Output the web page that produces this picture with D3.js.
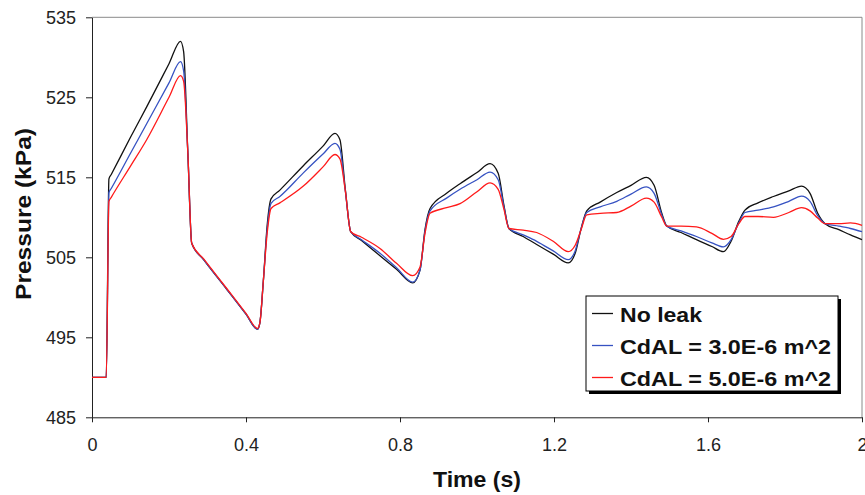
<!DOCTYPE html>
<html>
<head>
<meta charset="utf-8">
<script src="https://cdn.jsdelivr.net/npm/d3@7"></script>
<style>
  body { margin: 0; background: #fff; }
  text { font-family: "Liberation Sans", Arial, sans-serif; }
</style>
</head>
<body>
<svg id="chart" width="865" height="495"></svg>
<script>
// time (s)
var time = [0, 0.037, 0.044, 0.050, 0.10, 0.142, 0.20, 0.230, 0.238, 0.249, 0.259,
  0.290, 0.35, 0.40, 0.430, 0.436, 0.445, 0.455, 0.465, 0.488, 0.549,
  0.60, 0.631, 0.644, 0.658, 0.672, 0.70, 0.748, 0.791, 0.833, 0.852,
  0.865, 0.878, 0.921, 0.956, 1.0, 1.034, 1.055, 1.070, 1.083, 1.12,
  1.155, 1.198, 1.237, 1.255, 1.270, 1.285, 1.320, 1.363, 1.400, 1.440,
  1.460, 1.480, 1.493, 1.530, 1.570, 1.610, 1.640, 1.660, 1.680, 1.696,
  1.730, 1.770, 1.810, 1.843, 1.865, 1.885, 1.904, 1.940, 1.970, 2.0];

// pressure (kPa)
var noLeak = [490, 490, 514.8, 515.35, 520.0, 523.8, 529.2, 532.0, 530.7, 518.0, 506.75,
  504.7, 501.0, 497.9, 496.0, 496.8, 502.0, 509.0, 512.3, 513.4, 516.45,
  518.9, 520.5, 519.7, 513.5, 508.2, 507.1, 505.2, 503.5, 501.8, 503.4,
  508.5, 511.1, 513.0, 514.2, 515.6, 516.7, 515.5, 511.5, 508.6, 507.6,
  506.6, 505.4, 504.3, 505.5, 508.5, 510.8, 511.9, 513.1, 514.0, 515.0,
  514.0, 510.5, 508.9, 508.1, 507.2, 506.35, 505.7, 507.0, 509.5, 510.9,
  511.8, 512.6, 513.3, 513.9, 513.0, 510.5, 509.2, 508.45, 507.8, 507.2];

var cdal3 = [490, 490, 513.1, 513.6, 518.0, 521.7, 526.8, 529.45, 528.3, 518.0, 506.75,
  504.7, 501.0, 497.9, 496.0, 496.8, 502.0, 508.5, 511.75, 512.6, 515.55,
  517.9, 519.25, 518.5, 513.3, 508.2, 507.2, 505.5, 503.7, 501.9, 503.4,
  508.3, 510.8, 512.4, 513.5, 514.7, 515.65, 514.7, 511.3, 508.6, 507.8,
  507.0, 505.8, 504.7, 505.8, 508.5, 510.6, 511.3, 512.0, 512.9, 513.8,
  513.0, 510.3, 508.9, 508.3, 507.6, 506.8, 506.3, 507.2, 509.3, 510.6,
  510.9, 511.3, 512.0, 512.65, 512.0, 510.2, 509.2, 508.9, 508.6, 508.2];

var cdal5 = [490, 490, 512.0, 512.5, 516.4, 519.7, 525.0, 527.7, 527.0, 518.0, 506.75,
  504.8, 501.1, 498.0, 496.1, 496.8, 502.0, 508.0, 511.1, 511.8, 513.9,
  516.3, 517.85, 517.3, 513.3, 508.2, 507.5, 506.1, 504.25, 502.7, 503.8,
  508.0, 510.5, 511.2, 511.7, 513.2, 514.3, 513.5, 511.0, 508.6, 508.4,
  508.1, 507.0, 505.7, 506.5, 508.4, 510.3, 510.5, 510.6, 511.4, 512.4,
  511.9, 510.0, 508.9, 508.9, 508.8, 508.0, 507.25, 507.6, 509.2, 510.1,
  510.1, 510.0, 510.6, 511.2, 510.8, 509.9, 509.2, 509.2, 509.3, 509.0];

var seriesNames = ["No leak", "CdAL = 3.0E-6 m^2", "CdAL = 5.0E-6 m^2"];
var seriesColors = ["#111111", "#3652c2", "#ff1a1a"];
var xTicks = [0, 0.4, 0.8, 1.2, 1.6, 2];
var yTicks = [485, 495, 505, 515, 525, 535];

var plotLeft = 92, plotRight = 862, plotTop = 17.3, plotBottom = 417.3;

var svg = d3.select('#chart');

var x = d3.scaleLinear().domain([0, 2]).range([plotLeft, plotRight]);
var y = d3.scaleLinear().domain([485, 535]).range([plotBottom, plotTop]);

// frame (top/right in grey)
svg.append('line').attr('x1', plotLeft).attr('x2', plotRight).attr('y1', plotTop).attr('y2', plotTop)
  .attr('stroke', '#8a8a8a').attr('stroke-width', 1);
svg.append('line').attr('x1', plotRight).attr('x2', plotRight).attr('y1', plotTop).attr('y2', plotBottom)
  .attr('stroke', '#8a8a8a').attr('stroke-width', 1);

var xAxis = svg.append('g')
  .attr('transform', 'translate(0,' + plotBottom + ')')
  .call(d3.axisBottom(x).tickValues(xTicks).tickSize(5).tickSizeOuter(0).tickPadding(16)
    .tickFormat(function (d) { return d3.format('')(d); }));

var yAxis = svg.append('g')
  .attr('transform', 'translate(' + plotLeft + ',0)')
  .call(d3.axisLeft(y).tickValues(yTicks).tickSize(6).tickSizeOuter(0).tickPadding(10));

[xAxis, yAxis].forEach(function (g) {
  g.attr('font-family', null).attr('font-size', null);
  g.select('.domain').attr('stroke', '#222');
  g.selectAll('.tick line').attr('stroke', '#222');
  g.selectAll('.tick text').style('font-size', '18px').attr('fill', '#222');
});

// series
var all = [noLeak, cdal3, cdal5];
var line = d3.line()
  .x(function (d, i) { return x(time[i]); })
  .y(function (d) { return y(d); })
  .curve(d3.curveMonotoneX);

svg.selectAll('.series')
  .data(all)
  .enter()
  .append('path')
  .attr('class', 'series')
  .attr('d', line)
  .attr('fill', 'none')
  .attr('stroke', function (d, i) { return seriesColors[i]; })
  .attr('stroke-width', 1.3)
  .attr('stroke-linejoin', 'round');

// axis titles
svg.append('text')
  .attr('x', (plotLeft + plotRight) / 2)
  .attr('y', 487)
  .attr('text-anchor', 'middle')
  .attr('textLength', 88).attr('lengthAdjust', 'spacingAndGlyphs')
  .style('font-size', '22px').style('font-weight', 'bold').attr('fill', '#111')
  .text('Time (s)');

svg.append('text')
  .attr('transform', 'translate(31,214) rotate(-90)')
  .attr('text-anchor', 'middle')
  .attr('textLength', 172).attr('lengthAdjust', 'spacingAndGlyphs')
  .style('font-size', '22px').style('font-weight', 'bold').attr('fill', '#111')
  .text('Pressure (kPa)');

// legend
var lx = 586, ly = 296, lw = 252, lh = 95;
var legendWidths = [82, 211, 211];
svg.append('rect').attr('x', lx + 3).attr('y', ly + 3).attr('width', lw).attr('height', lh)
  .attr('fill', '#000');
svg.append('rect').attr('x', lx).attr('y', ly).attr('width', lw).attr('height', lh)
  .attr('fill', '#fff').attr('stroke', '#000').attr('stroke-width', 1);

var legend = svg.selectAll('.legend')
  .data(seriesNames)
  .enter()
  .append('g')
  .attr('class', 'legend')
  .attr('transform', function (d, i) { return 'translate(' + lx + ',' + (ly + 17.5 + i * 32) + ')'; });

legend.append('line')
  .attr('x1', 6).attr('x2', 27).attr('y1', 0).attr('y2', 0)
  .attr('stroke', function (d, i) { return seriesColors[i]; })
  .attr('stroke-width', 1.3);

legend.append('text')
  .attr('x', 34).attr('y', 8)
  .attr('textLength', function (d, i) { return legendWidths[i]; })
  .attr('lengthAdjust', 'spacingAndGlyphs')
  .style('font-size', '21px').style('font-weight', 'bold').attr('fill', '#111')
  .text(function (d) { return d; });
</script>
</body>
</html>
